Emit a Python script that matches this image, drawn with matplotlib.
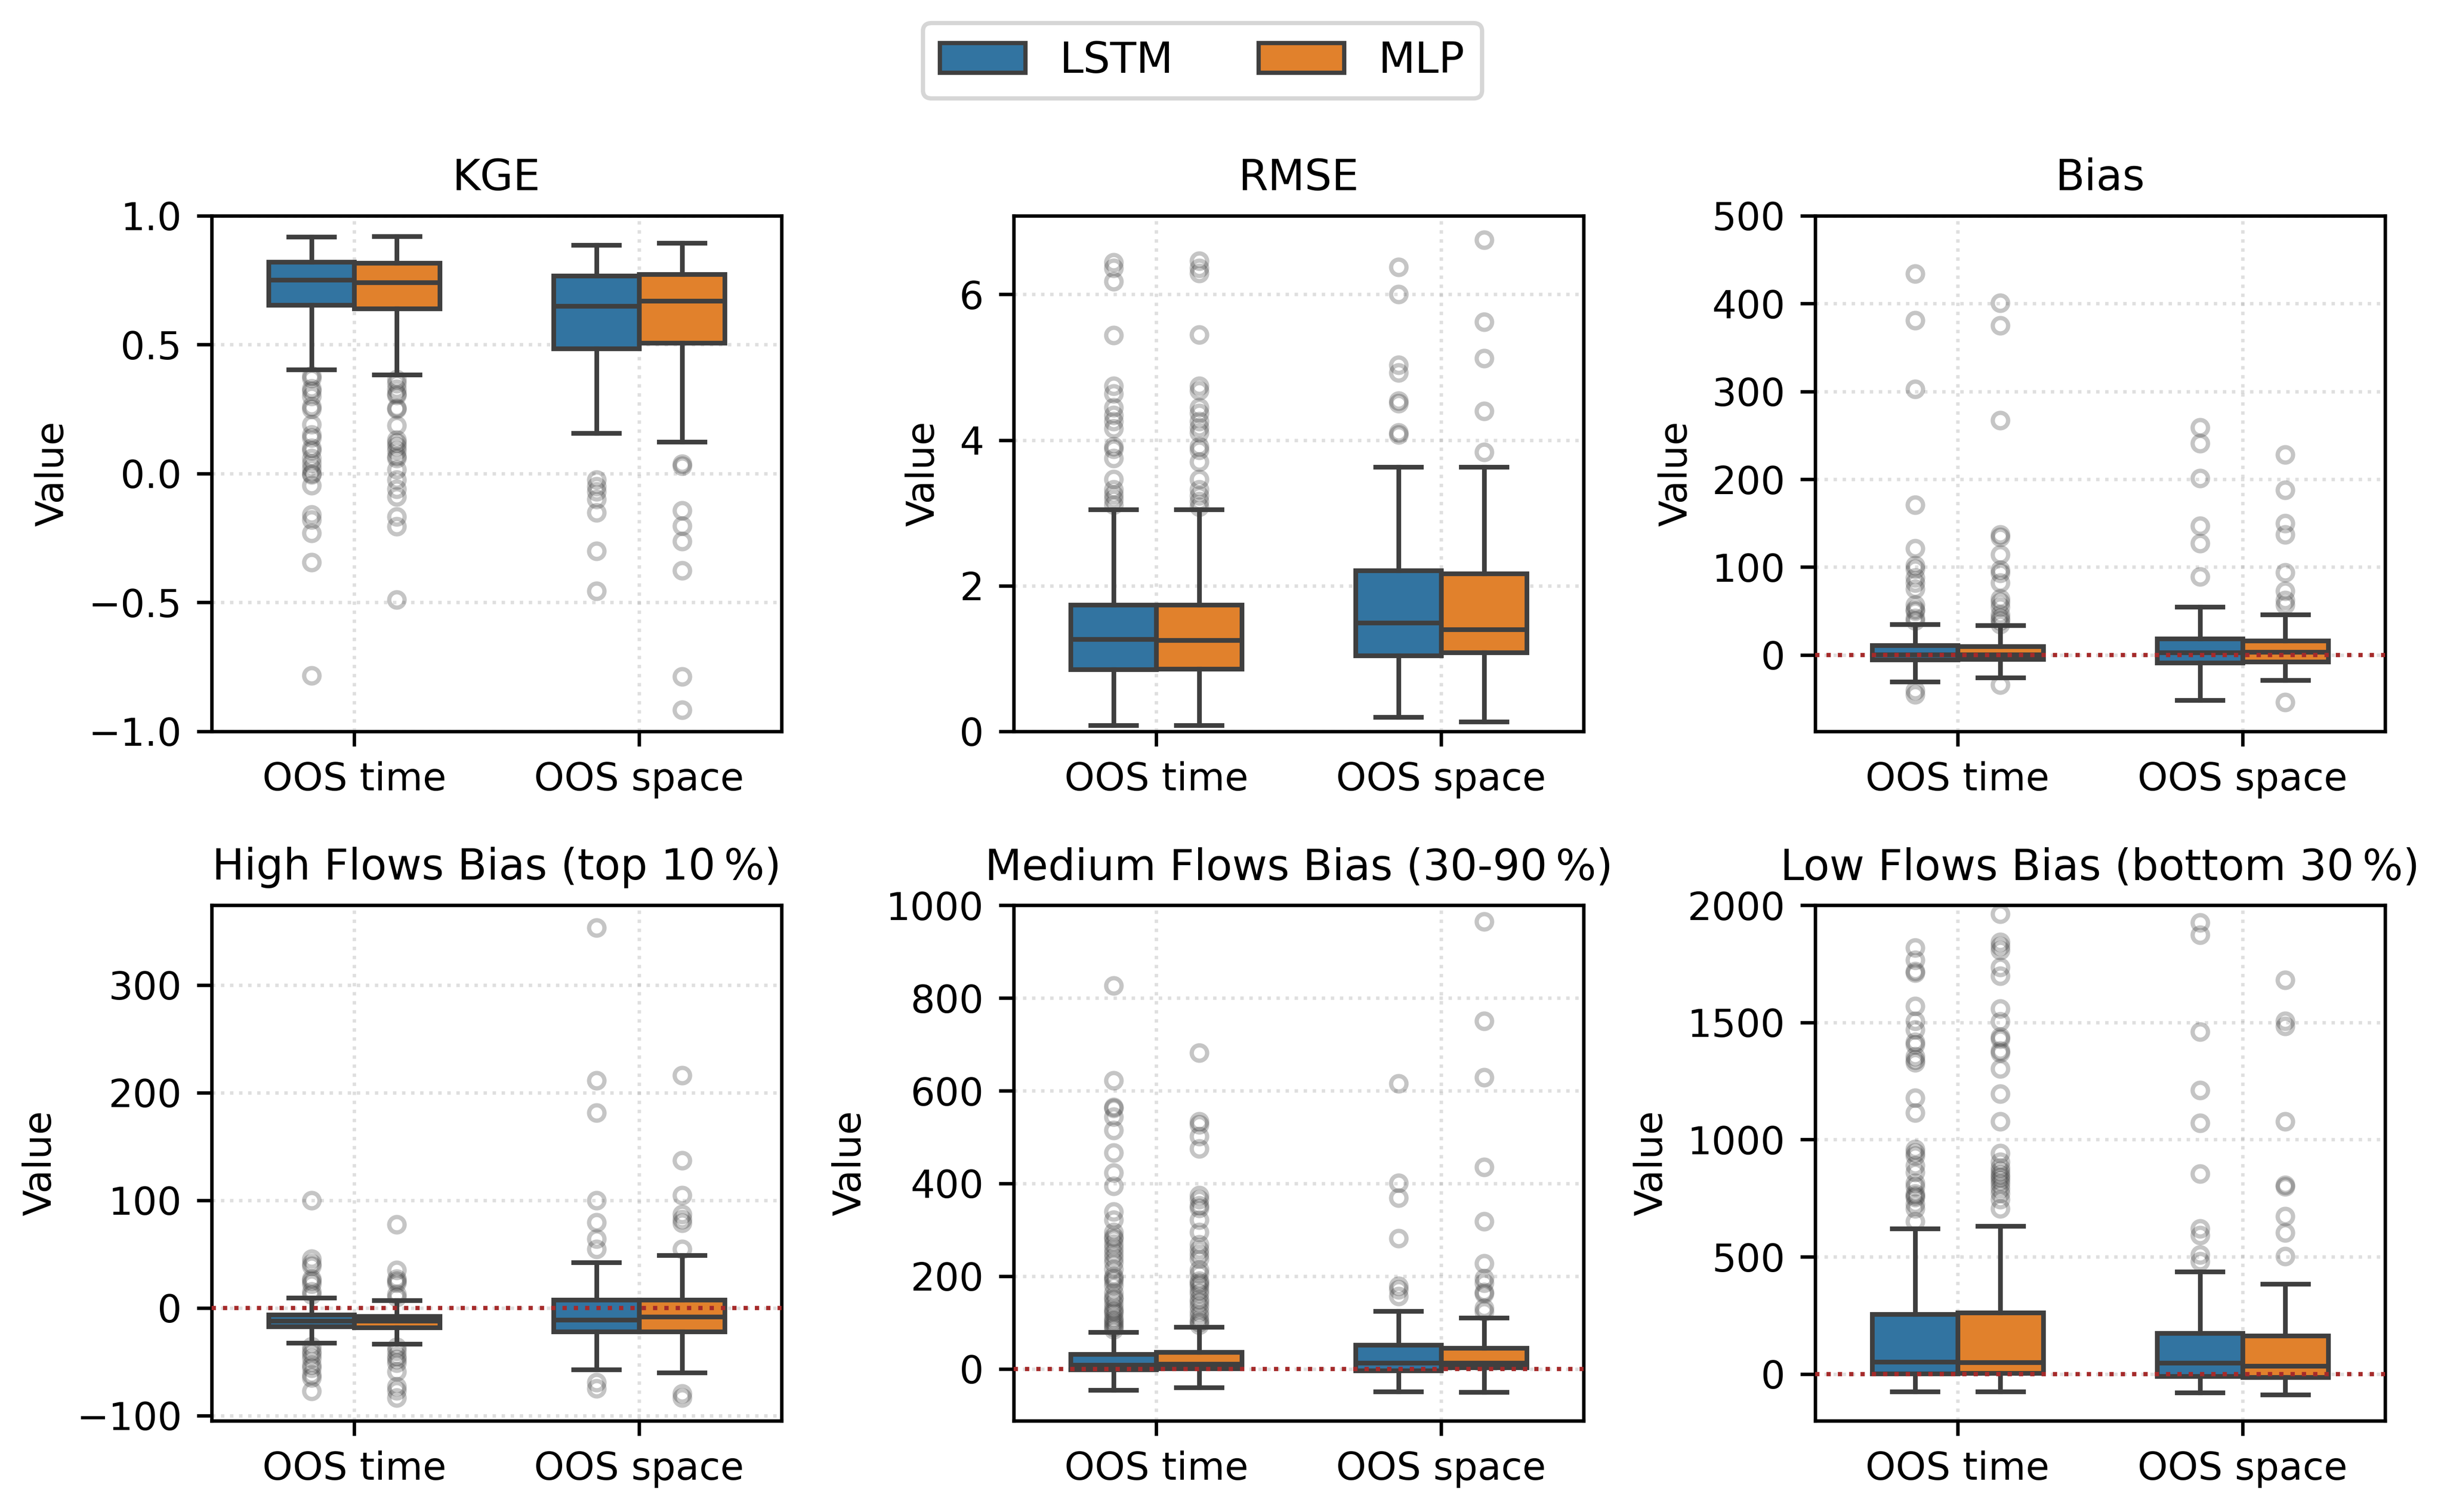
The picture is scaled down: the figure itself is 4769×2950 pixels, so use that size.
import matplotlib.pyplot as plt
from matplotlib.patches import Patch

categories = ["OOS time", "OOS space"]
models = ["LSTM", "MLP"]
colors = ["#3274a1", "#e1812c"]
line_color = "#3f3f3f"

# box stats: [whislo, q1, median, q3, whishi] for OOS time, OOS space
kge_lstm = [[0.404, 0.653, 0.752, 0.821, 0.919], [0.157, 0.485, 0.650, 0.767, 0.886]]
kge_mlp = [[0.384, 0.640, 0.742, 0.818, 0.921], [0.123, 0.506, 0.669, 0.774, 0.894]]
kge_lstm_fliers = [
    [0.38, 0.37, 0.33, 0.32, 0.30, 0.26, 0.25, 0.19, 0.15, 0.14, 0.10, 0.09, 0.06,
     0.04, 0.02, 0.0, -0.005, -0.046, -0.16, -0.18, -0.23, -0.345, -0.783],
    [-0.023, -0.05, -0.07, -0.10, -0.152, -0.30, -0.456],
]
kge_mlp_fliers = [
    [0.365, 0.35, 0.327, 0.31, 0.304, 0.255, 0.25, 0.187, 0.132, 0.12, 0.106, 0.09,
     0.068, 0.06, 0.015, -0.023, -0.06, -0.09, -0.167, -0.205, -0.49],
    [0.038, 0.03, -0.144, -0.202, -0.263, -0.375, -0.787, -0.916],
]

rmse_lstm = [[0.086, 0.849, 1.263, 1.737, 3.05], [0.194, 1.038, 1.495, 2.21, 3.634]]
rmse_mlp = [[0.086, 0.86, 1.253, 1.737, 3.05], [0.134, 1.08, 1.398, 2.167, 3.634]]
rmse_lstm_fliers = [
    [6.44, 6.36, 6.18, 5.44, 4.74, 4.64, 4.45, 4.34, 4.26, 4.16, 3.91, 3.88, 3.75,
     3.46, 3.32, 3.25, 3.19, 3.11],
    [6.376, 6.005, 5.03, 4.925, 4.54, 4.505, 4.10, 4.075],
]
rmse_mlp_fliers = [
    [6.46, 6.36, 6.29, 5.45, 4.74, 4.68, 4.45, 4.37, 4.26, 4.17, 4.10, 3.91, 3.86,
     3.70, 3.46, 3.32, 3.24, 3.16, 3.08],
    [6.747, 5.624, 5.124, 4.398, 3.833],
]

bias_lstm = [[-30.7, -5.6, 0.2, 11.1, 35], [-51.7, -9.1, 2.9, 18.7, 55]]
bias_mlp = [[-25.7, -4.9, 0.6, 9.9, 33.5], [-28.6, -7.6, 3.3, 16.3, 46]]
bias_lstm_fliers = [
    [434, 381, 303, 171, 121, 102, 98, 88, 82, 75, 57, 52, 50, 42, 39, -40.5, -45],
    [259, 241, 201, 147, 127, 89],
]
bias_mlp_fliers = [
    [401, 375, 267, 137, 134, 114, 97, 93, 82, 64, 60, 55, 46, 42, 39, 35, -34],
    [228, 188, 150, 137, 94, 73, 62.5, 57, -53.6],
]

high_lstm = [[-32.7, -17.5, -12, -6.6, 9.3], [-57.1, -21.9, -11, 7.4, 42]]
high_mlp = [[-33.7, -18.4, -12.3, -8, 6.9], [-60.1, -22.2, -8.5, 7.4, 48.8]]
high_lstm_fliers = [
    [99.6, 45.5, 41, 39, 27, 25, 22, 15, 12, -36, -40, -43, -47, -53, -56, -62, -65, -77.5],
    [353, 211, 181, 99.6, 79.5, 64, 54.5, -69, -75],
]
high_mlp_fliers = [
    [77.5, 35, 27, 25, 23, 12.7, 10, -36.5, -40, -45, -48, -51, -59, -73, -77, -83.6],
    [216, 137, 104.5, 87, 82, 79, 54.5, -79.5, -83.6],
]

medium_lstm = [[-45, -1.1, 8.8, 31.4, 79.9], [-49, -3.3, 12.8, 52.2, 124.4]]
medium_mlp = [[-40, 0.7, 10.9, 36.8, 90.8], [-50, 2.9, 12.8, 45.6, 110.5]]
medium_lstm_fliers = [
    [827, 622, 565, 562, 544, 515, 466, 423, 394, 339, 321, 295, 285, 280, 270, 260,
     250, 240, 230, 215, 200, 195, 190, 180, 165, 155, 150, 140, 130, 125, 120, 110,
     105, 100, 95, 90, 85],
    [616, 401, 369, 282, 179, 171, 157],
]
medium_mlp_fliers = [
    [682, 534, 527, 502, 475, 375, 366, 352, 347, 321, 295, 268, 257, 247, 237, 214,
     205, 190, 185, 180, 170, 162, 150, 143, 135, 124, 115, 105, 100, 95],
    [965, 750, 629, 435, 318, 228, 195, 185, 166, 162, 131, 124],
]

low_lstm = [[-75, 1.4, 51, 255, 620], [-79, -9.4, 47, 175, 437]]
low_mlp = [[-75, 3, 49, 262, 631], [-88, -13, 35, 164, 385]]
low_lstm_fliers = [
    [1819, 1767, 1719, 1712, 1569, 1507, 1469, 1416, 1405, 1356, 1340, 1328, 1177,
     1115, 960, 945, 932, 889, 860, 814, 800, 768, 760, 753, 725, 706, 650],
    [1927, 1874, 1460, 1211, 1070, 855, 621, 593, 508, 480],
]
low_mlp_fliers = [
    [1964, 1842, 1825, 1808, 1736, 1699, 1559, 1503, 1439, 1430, 1379, 1370, 1303,
     1196, 1077, 942, 904, 880, 866, 850, 838, 825, 810, 790, 772, 744, 706],
    [1682, 1507, 1484, 1077, 806, 800, 672, 602, 502],
]

titles = ["KGE", "RMSE", "Bias", "High Flows Bias (top 10\u2009%)",
          "Medium Flows Bias (30-90\u2009%)", "Low Flows Bias (bottom 30\u2009%)"]
panels = [
    (kge_lstm, kge_mlp, kge_lstm_fliers, kge_mlp_fliers, (-1, 1), [-1, -0.5, 0, 0.5, 1], False),
    (rmse_lstm, rmse_mlp, rmse_lstm_fliers, rmse_mlp_fliers, (0, 7.08), [0, 2, 4, 6], False),
    (bias_lstm, bias_mlp, bias_lstm_fliers, bias_mlp_fliers, (-87, 500), [0, 100, 200, 300, 400, 500], True),
    (high_lstm, high_mlp, high_lstm_fliers, high_mlp_fliers, (-105, 374), [-100, 0, 100, 200, 300], True),
    (medium_lstm, medium_mlp, medium_lstm_fliers, medium_mlp_fliers, (-112, 1000), [0, 200, 400, 600, 800, 1000], True),
    (low_lstm, low_mlp, low_lstm_fliers, low_mlp_fliers, (-200, 2000), [0, 500, 1000, 1500, 2000], True),
]


def box_stats(box, fliers):
    return dict(whislo=box[0], q1=box[1], med=box[2], q3=box[3], whishi=box[4], fliers=fliers)


fig = plt.figure(figsize=(4769 / 600, 2950 / 600), dpi=600)
lefts = [0.0866, 0.4148, 0.7427]
bottoms = [0.5163, 0.0603]
width, height = 0.2332, 0.3410

for k, (title, panel) in enumerate(zip(titles, panels)):
    lstm, mlp, lstm_fl, mlp_fl, ylim, yticks, zero_line = panel
    ax = fig.add_axes([lefts[k % 3], bottoms[k // 3], width, height])
    ax.set_axisbelow(True)
    for m, (boxes, fls) in enumerate([(lstm, lstm_fl), (mlp, mlp_fl)]):
        offset = -0.15 if m == 0 else 0.15
        ax.bxp([box_stats(b, f) for b, f in zip(boxes, fls)],
               positions=[i + offset for i in range(len(categories))],
               widths=0.3, capwidths=0.16, patch_artist=True, manage_ticks=False,
               boxprops=dict(facecolor=colors[m], edgecolor=line_color, linewidth=1.1),
               whiskerprops=dict(color=line_color, linewidth=1.1),
               capprops=dict(color=line_color, linewidth=1.1),
               medianprops=dict(color=line_color, linewidth=1.1),
               flierprops=dict(marker="o", markerfacecolor="none", markeredgecolor=line_color,
                               markersize=3.6, markeredgewidth=1.0, alpha=0.3))
    if zero_line:
        ax.axhline(0, color="#a52a2a", linestyle=":", linewidth=1.0, zorder=5)
    ax.grid(True, linestyle=":", alpha=0.4)
    ax.set_xticks(range(len(categories)))
    ax.set_xticklabels(categories, fontsize=9)
    ax.set_xlim(-0.5, 1.5)
    ax.set_ylim(*ylim)
    ax.set_yticks(yticks)
    ax.tick_params(axis="y", labelsize=9)
    ax.set_ylabel("Value", fontsize=9)
    ax.set_title(title, fontsize=10)

handles = [Patch(facecolor=c, edgecolor=line_color, linewidth=1.0) for c in colors]
fig.legend(handles, models, loc="upper center", bbox_to_anchor=(0.492, 0.999),
           ncol=2, fontsize=10)

fig.savefig("out.png", dpi=600)
